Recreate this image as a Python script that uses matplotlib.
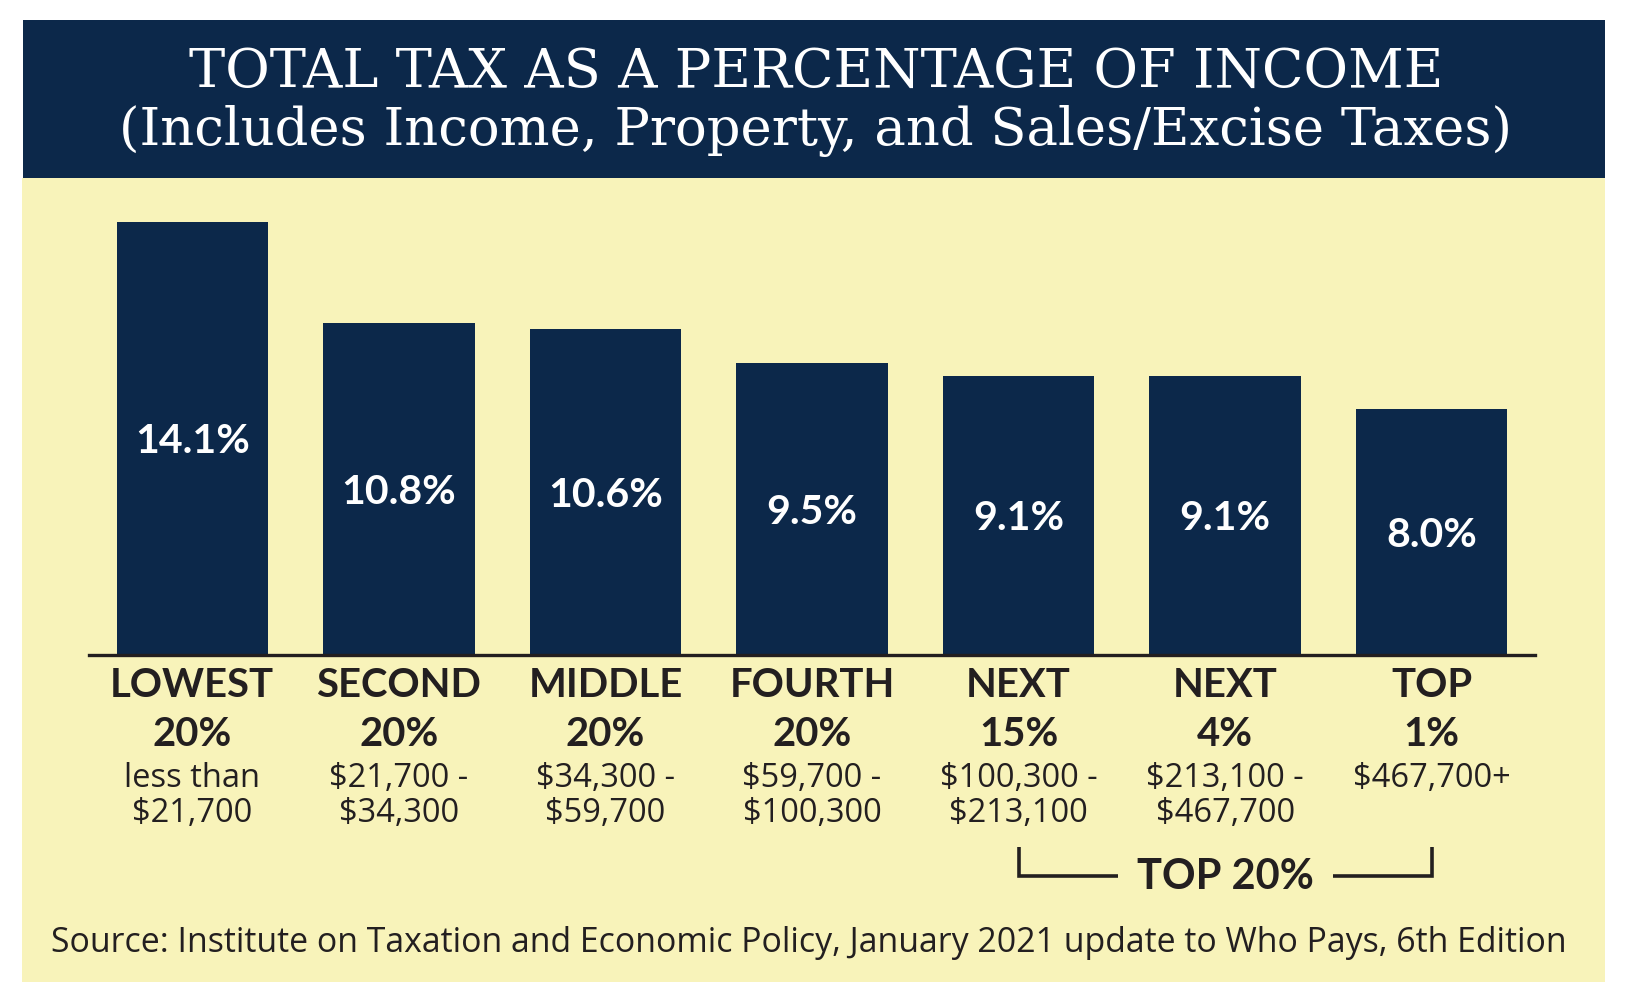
import matplotlib
matplotlib.use("Agg")
import matplotlib.pyplot as plt
from matplotlib.patches import Rectangle
from matplotlib.transforms import blended_transform_factory

# ---------------- data ----------------
groups_line1 = ["LOWEST", "SECOND", "MIDDLE", "FOURTH", "NEXT", "NEXT", "TOP"]
groups_line2 = ["20%", "20%", "20%", "20%", "15%", "4%", "1%"]
income_ranges = [
    ["less than", "$21,700"],
    ["$21,700 -", "$34,300"],
    ["$34,300 -", "$59,700"],
    ["$59,700 -", "$100,300"],
    ["$100,300 -", "$213,100"],
    ["$213,100 -", "$467,700"],
    ["$467,700+"],
]
tax_rates = [14.1, 10.8, 10.6, 9.5, 9.1, 9.1, 8.0]
value_labels = ["14.1%", "10.8%", "10.6%", "9.5%", "9.1%", "9.1%", "8.0%"]
title_1 = "TOTAL TAX AS A PERCENTAGE OF INCOME"
title_2 = "(Includes Income, Property, and Sales/Excise Taxes)"
bracket_label = "TOP 20%"
bracket_span = [4, 6]
source = "Source: Institute on Taxation and Economic Policy, January 2021 update to Who Pays, 6th Edition"

# ---------------- style ----------------
NAVY = "#0c284a"
YELLOW = "#f8f3ba"
INK = "#231f20"
W, H = 1626, 1000

fig = plt.figure(figsize=(W / 100, H / 100), dpi=100)
fig.patch.set_facecolor("white")

# overlay axes in pixel coordinates (y downwards)
ov = fig.add_axes([0, 0, 1, 1], zorder=0)
ov.set_xlim(0, W)
ov.set_ylim(H, 0)
ov.axis("off")

ov.add_patch(Rectangle((22, 178), 1583, 804, facecolor=YELLOW, edgecolor="none"))
ov.add_patch(Rectangle((23, 20), 1582, 158, facecolor=NAVY, edgecolor="none"))

ov.text(816, 88, title_1, color="white", ha="center", va="baseline",
        family="DejaVu Serif", fontsize=39.2)
ov.text(815, 145, title_2, color="white", ha="center", va="baseline",
        family="DejaVu Serif", fontsize=38)

# bars axes
base_px = 655
top_px = 200
px_per_pct = (655 - 222) / 14.1
ax = fig.add_axes([89 / W, 1 - base_px / H, (1535 - 89) / W, (base_px - top_px) / H],
                  zorder=2)
ax.set_facecolor("none")
x = list(range(len(tax_rates)))
ax.bar(x, tax_rates, width=0.733, color=NAVY, zorder=2)
ax.set_xlim(-0.5, len(tax_rates) - 0.5)
ax.set_ylim(0, (base_px - top_px) / px_per_pct)
for s in ["top", "right", "left"]:
    ax.spines[s].set_visible(False)
ax.spines["bottom"].set_color(INK)
ax.spines["bottom"].set_linewidth(2.4)
ax.set_xticks([])
ax.set_yticks([])

for xi, v, lab in zip(x, tax_rates, value_labels):
    ax.annotate(lab, xy=(xi, v / 2), xytext=(0, -14.5), textcoords="offset pixels",
                ha="center", va="baseline", color="white",
                family="Lato", fontweight="bold", fontsize=29.5, zorder=3)

tr = blended_transform_factory(ax.transData, ov.transData)
for xi, l1, l2, rng in zip(x, groups_line1, groups_line2, income_ranges):
    ov.text(xi, 697, l1, transform=tr, ha="center", va="baseline", color=INK,
            family="Lato", fontweight="bold", fontsize=28.8)
    ov.text(xi, 746, l2, transform=tr, ha="center", va="baseline", color=INK,
            family="Lato", fontweight="bold", fontsize=28.8)
    for k, line in enumerate(rng):
        ov.text(xi, 787 + 35 * k, line, transform=tr, ha="center", va="baseline",
                color=INK, family="Open Sans", fontsize=23.5)

# bracket for top 20%
b0, b1 = bracket_span
mid = (b0 + b1) / 2
lw = 2.6
ov.plot([b0, b0, b0 + 0.48], [847, 876, 876], transform=tr, color=INK, lw=lw,
        solid_joinstyle="miter", solid_capstyle="butt")
ov.plot([b1 - 0.48, b1, b1], [876, 876, 847], transform=tr, color=INK, lw=lw,
        solid_joinstyle="miter", solid_capstyle="butt")
ov.text(mid, 889, bracket_label, transform=tr, ha="center", va="baseline",
        color=INK, family="Lato", fontweight="bold", fontsize=30)

ov.text(809, 952, source, ha="center", va="baseline", color=INK,
        family="Open Sans", fontsize=24.4)

fig.savefig("out.png", dpi=100, facecolor="white")
